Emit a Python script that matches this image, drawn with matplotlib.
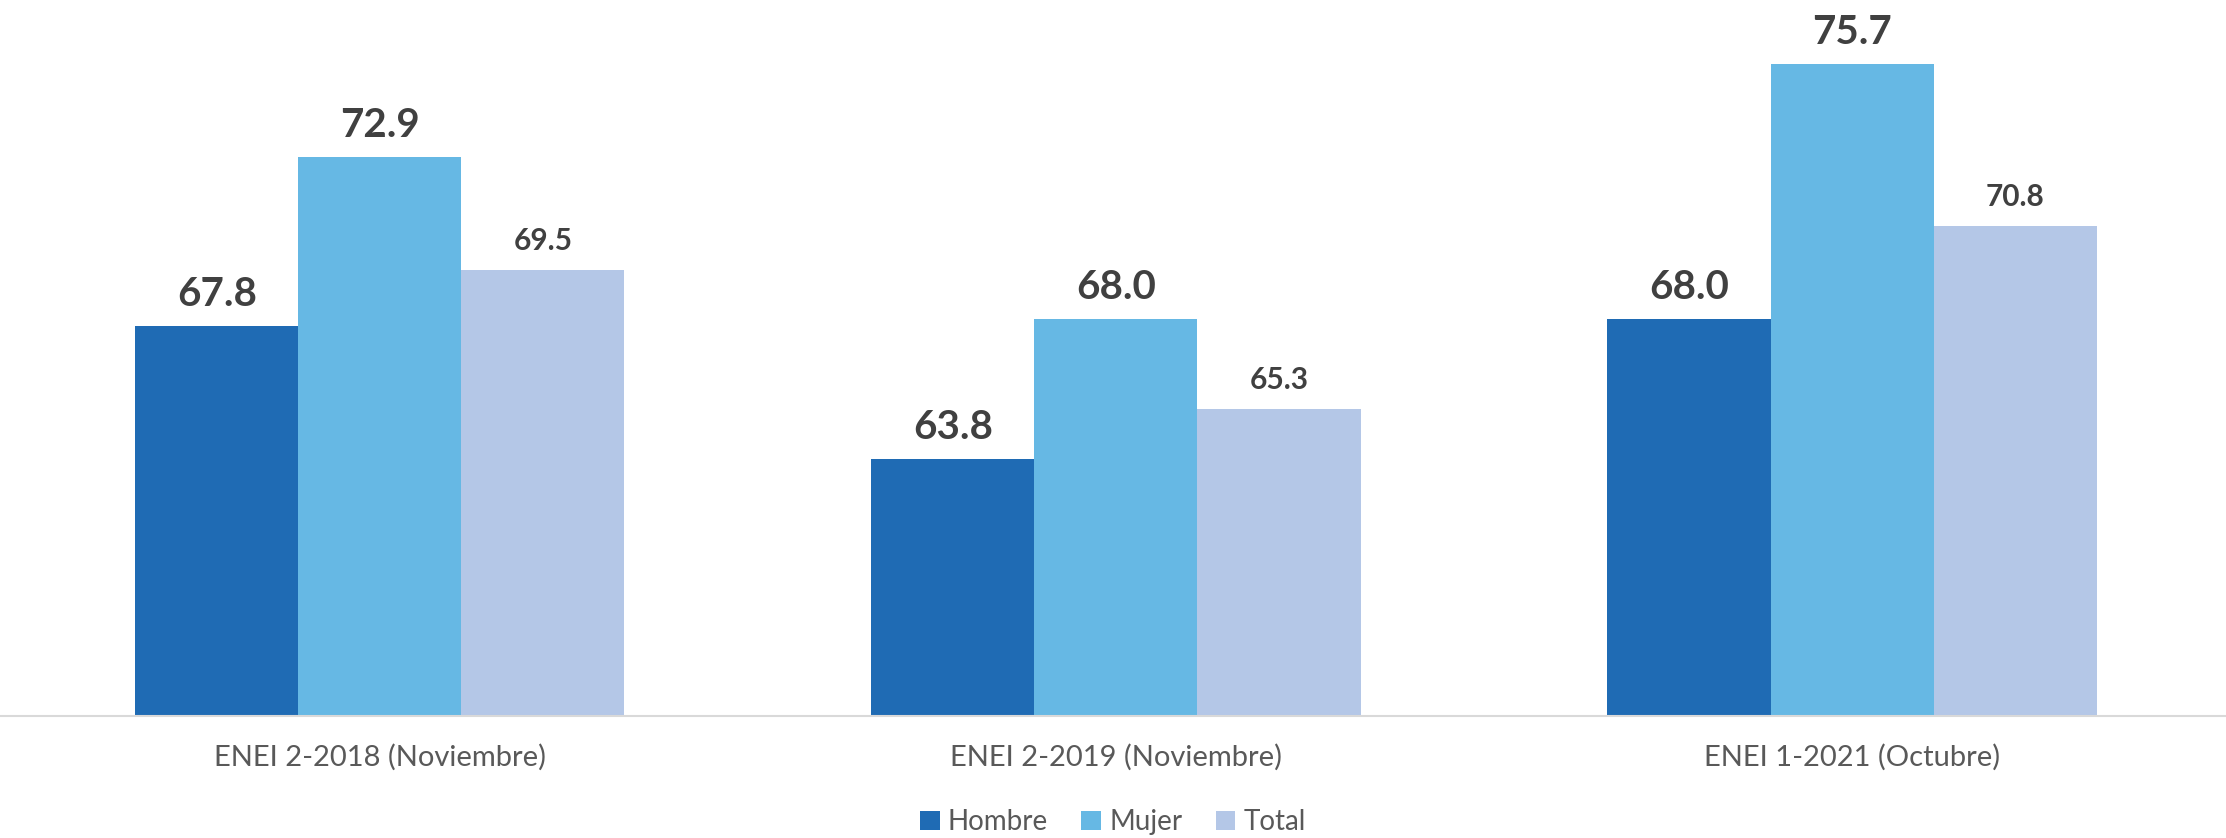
import matplotlib
matplotlib.use("Agg")
import matplotlib.pyplot as plt
import numpy as np
from matplotlib.patches import Patch

plt.rcParams['font.family'] = ['Lato', 'DejaVu Sans']

categories = ["ENEI 2-2018 (Noviembre)", "ENEI 2-2019 (Noviembre)", "ENEI 1-2021 (Octubre)"]
series_names = ["Hombre", "Mujer", "Total"]
hombre = [67.8, 63.8, 68.0]
mujer = [72.9, 68.0, 75.7]
total = [69.5, 65.3, 70.8]
colors = ["#1f6bb4", "#66b8e4", "#b4c7e7"]

fig = plt.figure(figsize=(22.26, 8.38), dpi=100)
H = 838
ax = fig.add_axes([0, 1 - 716 / H, 1, 716 / H])
ax.set_xlim(-0.516, 2.508)
ax.set_ylim(56.05, 77.62)

x = np.arange(len(categories))
w = 0.2215
data = [hombre, mujer, total]
label_sizes = [29, 29, 21.5]
for i, (vals, col) in enumerate(zip(data, colors)):
    xs = x + (i - 1) * w
    ax.bar(xs, vals, width=w, color=col, edgecolor='none')
    for xi, v in zip(xs, vals):
        ax.annotate(f"{v:.1f}", (xi, v), xytext=(0, 20), textcoords='offset pixels',
                    ha='center', va='baseline', fontsize=label_sizes[i],
                    fontweight='bold', color='#404040')

for s in ['top', 'right', 'left']:
    ax.spines[s].set_visible(False)
ax.spines['bottom'].set_color('#d9d9d9')
ax.spines['bottom'].set_linewidth(1.5)
ax.set_yticks([])
ax.set_xticks(x)
ax.set_xticklabels(categories, fontsize=21, color='#595959')
ax.tick_params(axis='x', length=0, pad=20)

handles = [Patch(facecolor=c, edgecolor='none') for c in colors]
fig.legend(handles, series_names, loc='center', bbox_to_anchor=(0.5, 1 - 822 / H),
           ncol=3, frameon=False, fontsize=20, labelcolor='#595959',
           handlelength=0.7, handleheight=0.7, handletextpad=0.3, columnspacing=1.2)

fig.savefig("out.png", dpi=100)
